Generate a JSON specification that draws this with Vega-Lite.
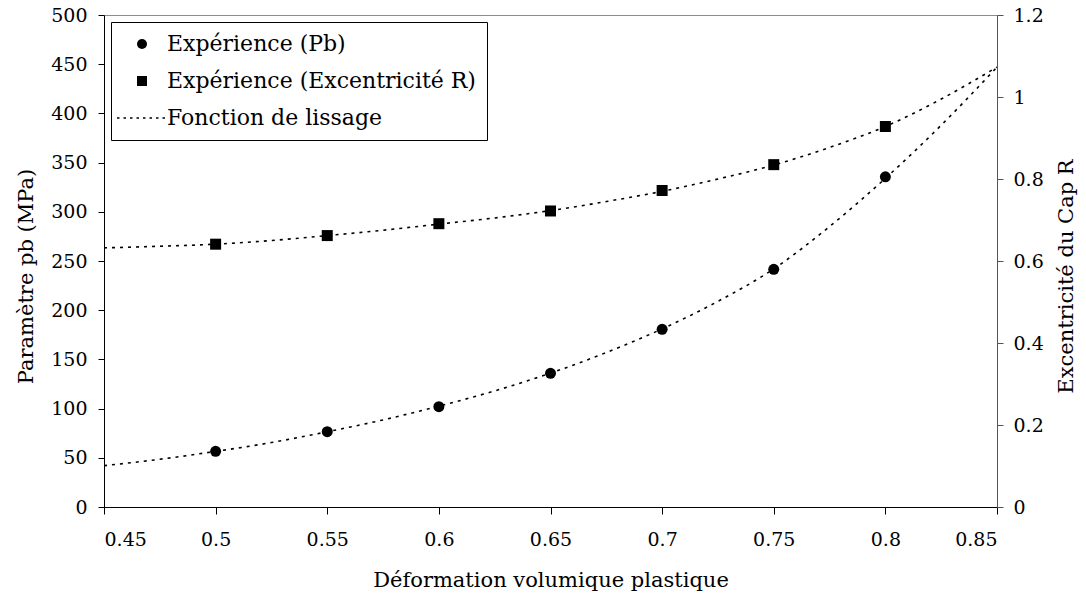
{
  "$schema": "https://vega.github.io/schema/vega-lite/v6.json",
  "width": 893,
  "height": 492,
  "padding": {"left": 15, "top": 6, "right": 5, "bottom": 5},
  "background": "white",
  "config": {
    "font": "DejaVu Serif",
    "view": {"stroke": "#8c8c8c", "strokeWidth": 1},
    "axis": {
      "grid": false,
      "domainColor": "black",
      "tickColor": "black",
      "labelColor": "black",
      "titleColor": "black",
      "labelFont": "DejaVu Serif",
      "titleFont": "DejaVu Serif",
      "labelFontSize": 19,
      "titleFontSize": 21,
      "titleFontWeight": "normal"
    },
    "legend": {
      "labelFont": "DejaVu Serif",
      "labelFontSize": 22,
      "labelColor": "black",
      "labelLimit": 600
    }
  },
  "datasets": {
    "pb": [
      {"x": 0.5, "v": 56.6, "serie": "Expérience (Pb)"},
      {"x": 0.55, "v": 76.5, "serie": "Expérience (Pb)"},
      {"x": 0.6, "v": 102, "serie": "Expérience (Pb)"},
      {"x": 0.65, "v": 135.8, "serie": "Expérience (Pb)"},
      {"x": 0.7, "v": 180.6, "serie": "Expérience (Pb)"},
      {"x": 0.75, "v": 241.6, "serie": "Expérience (Pb)"},
      {"x": 0.8, "v": 335.5, "serie": "Expérience (Pb)"}
    ],
    "rr": [
      {"x": 0.5, "v": 0.641, "serie": "Expérience (Excentricité R)"},
      {"x": 0.55, "v": 0.662, "serie": "Expérience (Excentricité R)"},
      {"x": 0.6, "v": 0.691, "serie": "Expérience (Excentricité R)"},
      {"x": 0.65, "v": 0.722, "serie": "Expérience (Excentricité R)"},
      {"x": 0.7, "v": 0.772, "serie": "Expérience (Excentricité R)"},
      {"x": 0.75, "v": 0.835, "serie": "Expérience (Excentricité R)"},
      {"x": 0.8, "v": 0.928, "serie": "Expérience (Excentricité R)"}
    ],
    "fitpb": [
      {"x": 0.45, "v": 42},
      {"x": 0.475, "v": 48.5},
      {"x": 0.5, "v": 56.5},
      {"x": 0.525, "v": 65.5},
      {"x": 0.55, "v": 76.5},
      {"x": 0.575, "v": 88.5},
      {"x": 0.6, "v": 102.5},
      {"x": 0.625, "v": 118},
      {"x": 0.65, "v": 136},
      {"x": 0.675, "v": 157},
      {"x": 0.7, "v": 181},
      {"x": 0.725, "v": 209},
      {"x": 0.75, "v": 242},
      {"x": 0.775, "v": 285},
      {"x": 0.8, "v": 334},
      {"x": 0.825, "v": 388},
      {"x": 0.85, "v": 447}
    ],
    "fitr": [
      {"x": 0.45, "v": 0.632},
      {"x": 0.475, "v": 0.636},
      {"x": 0.5, "v": 0.641},
      {"x": 0.525, "v": 0.65},
      {"x": 0.55, "v": 0.662},
      {"x": 0.575, "v": 0.675},
      {"x": 0.6, "v": 0.69},
      {"x": 0.625, "v": 0.705},
      {"x": 0.65, "v": 0.723},
      {"x": 0.675, "v": 0.745},
      {"x": 0.7, "v": 0.77},
      {"x": 0.725, "v": 0.8},
      {"x": 0.75, "v": 0.834},
      {"x": 0.775, "v": 0.877},
      {"x": 0.8, "v": 0.928},
      {"x": 0.825, "v": 0.995},
      {"x": 0.85, "v": 1.073}
    ]
  },
  "layer": [
    {
      "layer": [
        {
          "data": {"name": "fitpb"},
          "mark": {"type": "line", "color": "black", "strokeWidth": 1.6, "strokeDash": [3, 5], "interpolate": "monotone", "clip": true},
          "encoding": {
            "x": {
              "field": "x", "type": "quantitative",
              "scale": {"domain": [0.45, 0.85], "nice": false, "zero": false},
              "axis": {
                "title": "Déformation volumique plastique",
                "values": [0.45, 0.5, 0.55, 0.6, 0.65, 0.7, 0.75, 0.8, 0.85],
                "format": ".2~f",
                "tickSize": 7,
                "labelPadding": 16,
                "titlePadding": 20
              }
            },
            "y": {
              "field": "v", "type": "quantitative",
              "scale": {"domain": [0, 500], "nice": false},
              "axis": {
                "orient": "left",
                "title": "Paramètre pb (MPa)",
                "titleY": 261,
                "values": [0, 50, 100, 150, 200, 250, 300, 350, 400, 450, 500],
                "tickSize": 6,
                "labelPadding": 11,
                "titlePadding": 14
              }
            }
          }
        },
        {
          "data": {"name": "pb"},
          "mark": {"type": "point", "filled": true, "color": "black", "opacity": 1, "size": 121},
          "encoding": {
            "x": {"field": "x", "type": "quantitative"},
            "y": {"field": "v", "type": "quantitative"},
            "shape": {
              "field": "serie", "type": "nominal",
              "scale": {
                "domain": ["Expérience (Pb)", "Expérience (Excentricité R)", "Fonction de lissage"],
                "range": ["circle", "square", "M-5,-0.15L-4.5,-0.15L-4.5,0.15L-5,0.15Z M-3.7,-0.15L-3.2,-0.15L-3.2,0.15L-3.7,0.15Z M-2.4,-0.15L-1.9,-0.15L-1.9,0.15L-2.4,0.15Z M-1.1,-0.15L-0.6,-0.15L-0.6,0.15L-1.1,0.15Z M0.2,-0.15L0.7,-0.15L0.7,0.15L0.2,0.15Z M1.5,-0.15L2,-0.15L2,0.15L1.5,0.15Z M2.8,-0.15L3.3,-0.15L3.3,0.15L2.8,0.15Z M4.1,-0.15L4.6,-0.15L4.6,0.15L4.1,0.15Z"]
              },
              "legend": {
                "title": null,
                "orient": "none",
                "legendX": 7,
                "legendY": 7,
                "padding": 11,
                "strokeColor": "black",
                "fillColor": "white",
                "symbolSize": 100,
                "symbolFillColor": "black",
                "symbolStrokeWidth": 0,
                "symbolOpacity": 1,
                "symbolOffset": 9,
                "labelOffset": 14,
                "rowPadding": 15
              }
            }
          }
        }
      ]
    },
    {
      "layer": [
        {
          "data": {"name": "fitr"},
          "mark": {"type": "line", "color": "black", "strokeWidth": 1.6, "strokeDash": [3, 5], "interpolate": "monotone", "clip": true},
          "encoding": {
            "x": {"field": "x", "type": "quantitative"},
            "y": {
              "field": "v", "type": "quantitative",
              "scale": {"domain": [0, 1.2], "nice": false},
              "axis": {
                "orient": "right",
                "title": "Excentricité du Cap R",
                "titleAngle": 270,
                "titleBaseline": "top",
                "titleY": 261,
                "values": [0, 0.2, 0.4, 0.6, 0.8, 1, 1.2],
                "format": ".1~f",
                "tickSize": 6,
                "labelPadding": 10,
                "titlePadding": 12,
                "domainColor": "#555555",
                "tickColor": "#555555"
              }
            }
          }
        },
        {
          "data": {"name": "rr"},
          "mark": {"type": "point", "filled": true, "color": "black", "opacity": 1, "size": 121},
          "encoding": {
            "x": {"field": "x", "type": "quantitative"},
            "y": {"field": "v", "type": "quantitative"},
            "shape": {"field": "serie", "type": "nominal"}
          }
        }
      ]
    }
  ],
  "resolve": {"scale": {"y": "independent"}}
}
